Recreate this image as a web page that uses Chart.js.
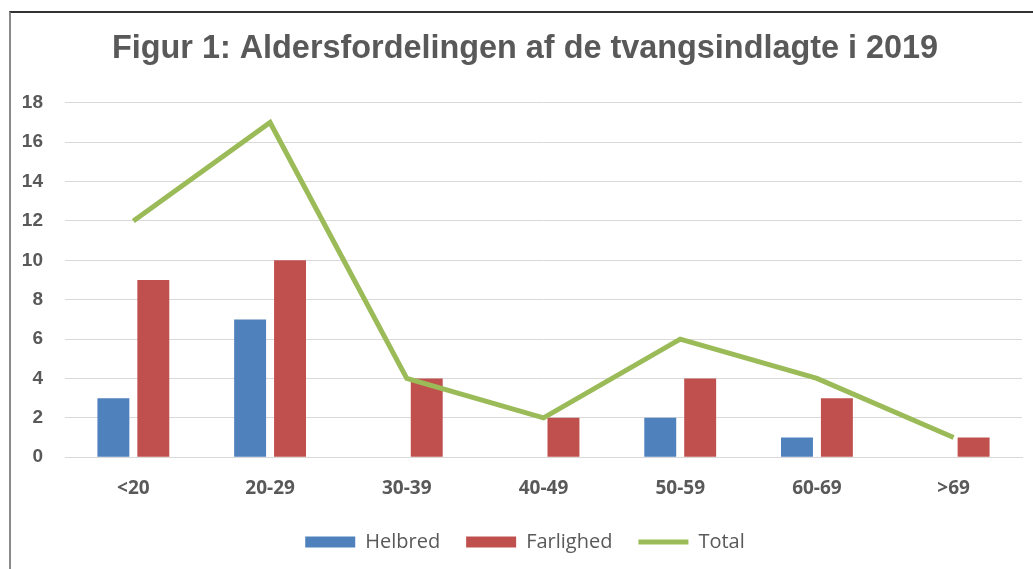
<!DOCTYPE html>
<html>
<head>
<meta charset="utf-8">
<script src="https://cdn.jsdelivr.net/npm/chart.js@4/dist/chart.umd.min.js"></script>
<style>
  html, body { margin: 0; padding: 0; background: #fff; overflow: hidden; }
  #frame {
    position: absolute; left: 9px; top: 11px; width: 1100px; height: 600px;
    border-top: 2px solid #333; border-left: 2px solid #8a8a8a;
  }
  #wrap { position: absolute; left: 0; top: 0; width: 1049px; height: 569px; }
</style>
</head>
<body>
<div id="frame"></div>
<div id="wrap"><canvas id="chart"></canvas></div>
<script>
// data
var ageGroups = ["<20", "20-29", "30-39", "40-49", "50-59", "60-69", ">69"];
var helbred = [3, 7, 0, 0, 2, 1, 0];
var farlighed = [9, 10, 4, 2, 4, 3, 1];
var total = [12, 17, 4, 2, 6, 4, 1];
var yTicks = [0, 2, 4, 6, 8, 10, 12, 14, 16, 18];

var grey = "#595959";

var chartSelector = document.getElementById("chart");

var ageChart = new Chart(chartSelector, {
    type: 'bar',
    data: {
        labels: ageGroups,
        datasets: [
            {
                label: "Helbred",
                data: helbred,
                backgroundColor: "#4F81BD",
                pointStyle: 'rect',
                order: 2
            },
            {
                label: "Farlighed",
                data: farlighed,
                backgroundColor: "#C0504D",
                pointStyle: 'rect',
                order: 2
            },
            {
                label: "Total",
                type: 'line',
                data: total,
                borderColor: "#9BBB59",
                backgroundColor: "#9BBB59",
                borderWidth: 5,
                pointRadius: 0,
                pointStyle: 'line',
                tension: 0,
                fill: false,
                order: 1
            }
        ]
    },
    options: {
        responsive: true,
        maintainAspectRatio: false,
        animation: false,
        datasets: {
            bar: { categoryPercentage: 0.584, barPercentage: 0.8 }
        },
        layout: { padding: { left: 1, right: 0, top: 14, bottom: 7 } },
        plugins: {
            title: {
                display: true,
                text: "Figur 1: Aldersfordelingen af de tvangsindlagte i 2019",
                color: grey,
                font: { family: "'Liberation Sans Narrow', sans-serif", size: 32.4, weight: 'bold' },
                padding: { top: 16, bottom: 34 }
            },
            legend: {
                position: 'bottom',
                labels: {
                    usePointStyle: true,
                    pointStyleWidth: 50,
                    boxHeight: 11,
                    padding: 26,
                    color: grey,
                    font: { family: "'Open Sans', sans-serif", size: 20 },
                    sort: function(a, b) { return a.datasetIndex - b.datasetIndex; }
                }
            },
            tooltip: { enabled: false }
        },
        scales: {
            x: {
                grid: { display: false, drawTicks: false },
                border: { color: "#D9D9D9", width: 1 },
                ticks: {
                    color: grey,
                    padding: 20,
                    font: { family: "'Open Sans', sans-serif", size: 19, weight: 'bold' }
                },
                afterFit: function(axis) {
                    axis.height = axis.height - 14;
                }
            },
            y: {
                min: 0,
                max: 18,
                afterBuildTicks: function(axis) {
                    axis.ticks = yTicks.map(function(v) { return { value: v }; });
                },
                afterFit: function(axis) {
                    axis.width = 64;
                },
                grid: { color: "#D9D9D9", lineWidth: 1, drawTicks: false },
                border: { display: false },
                ticks: {
                    color: grey,
                    padding: 22,
                    font: { family: "'Liberation Sans', sans-serif", size: 19, weight: 'bold' }
                }
            },
            // empty spacer on the right so title and legend centre like the original
            spacer: {
                type: 'linear',
                position: 'right',
                grid: { display: false, drawTicks: false },
                border: { display: false },
                ticks: { display: false },
                afterFit: function(axis) {
                    axis.width = 27;
                }
            }
        }
    }
});
</script>
</body>
</html>
